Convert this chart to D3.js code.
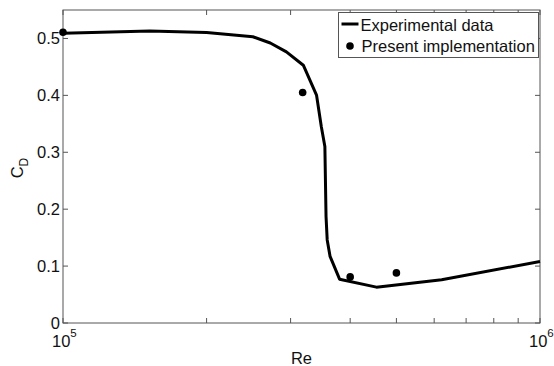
<!DOCTYPE html>
<html>
<head>
<meta charset="utf-8">
<script src="https://cdn.jsdelivr.net/npm/d3@7"></script>
<style>
  body { margin: 0; background: #fff; }
  text { font-family: "Liberation Sans", Arial, Helvetica, sans-serif; fill: #111; }
</style>
</head>
<body>
<div id="chart"></div>
<script>
// experimental curve
const expRe = [1e5, 1.52e5, 2.0e5, 2.5e5, 2.72e5, 2.94e5, 3.19e5, 3.40e5, 3.48e5, 3.54e5, 3.56e5, 3.58e5, 3.63e5, 3.80e5, 4.54e5, 6.22e5, 1e6];
const expCd = [0.509, 0.513, 0.5105, 0.503, 0.492, 0.4765, 0.453, 0.4005, 0.345, 0.31, 0.187, 0.146, 0.117, 0.077, 0.063, 0.076, 0.108];

// present implementation points
const presRe = [1e5, 3.18e5, 4.0e5, 5.0e5];
const presCd = [0.511, 0.405, 0.081, 0.088];

const yTicks = [0, 0.1, 0.2, 0.3, 0.4, 0.5];
const xMinor = [2e5, 3e5, 4e5, 5e5, 6e5, 7e5, 8e5, 9e5];
const xMajor = [1e5, 1e6];
const xExp = ["5", "6"];

// set the dimensions and margins
const W = 554, H = 366;
const margin = {top: 10, right: 14, bottom: 43, left: 63},
    width = W - margin.left - margin.right,
    height = H - margin.top - margin.bottom;

const svg = d3.select("#chart")
    .append("svg")
    .attr("width", W)
    .attr("height", H);

const g = svg.append("g")
    .attr("transform", "translate(" + margin.left + "," + margin.top + ")");

const x = d3.scaleLog().domain([1e5, 1e6]).range([0, width]);
const y = d3.scaleLinear().domain([0, 0.55]).range([height, 0]);

const axisColor = "#555";
const tickLen = 5;

// box
g.append("rect")
    .attr("width", width).attr("height", height)
    .attr("fill", "none").attr("stroke", axisColor).attr("stroke-width", 1);

// x ticks (inward, bottom and top)
const xt = xMinor.concat(xMajor);
xt.forEach(v => {
    g.append("line").attr("x1", x(v)).attr("x2", x(v))
        .attr("y1", height).attr("y2", height - tickLen)
        .attr("stroke", axisColor);
    g.append("line").attr("x1", x(v)).attr("x2", x(v))
        .attr("y1", 0).attr("y2", tickLen)
        .attr("stroke", axisColor);
});

// y ticks (inward, left and right)
yTicks.forEach(v => {
    g.append("line").attr("x1", 0).attr("x2", tickLen)
        .attr("y1", y(v)).attr("y2", y(v)).attr("stroke", axisColor);
    g.append("line").attr("x1", width).attr("x2", width - tickLen)
        .attr("y1", y(v)).attr("y2", y(v)).attr("stroke", axisColor);
    g.append("text")
        .attr("x", -3).attr("y", y(v))
        .attr("dy", "0.35em")
        .attr("text-anchor", "end")
        .attr("font-size", 16.5)
        .text(d3.format("")(v));
});

// x tick labels 10^5, 10^6
xMajor.forEach((v, i) => {
    const t = g.append("text")
        .attr("x", x(v) - 11).attr("y", height + 24)
        .attr("font-size", 16.5);
    t.append("tspan").text("10");
    t.append("tspan").attr("dy", -10).attr("font-size", 11.5).text(xExp[i]);
});

// axis labels
g.append("text")
    .attr("x", width / 2).attr("y", height + 41)
    .attr("text-anchor", "middle")
    .attr("font-size", 16.5)
    .text("Re");

const yl = svg.append("text")
    .attr("transform", "translate(23,168) rotate(-90)")
    .attr("text-anchor", "middle")
    .attr("font-size", 16.5);
yl.append("tspan").text("C");
yl.append("tspan").attr("dy", 5).attr("font-size", 12).text("D");

// experimental line
const expData = expRe.map((r, i) => ({re: r, cd: expCd[i]}));
g.append("path")
    .datum(expData)
    .attr("fill", "none")
    .attr("stroke", "#000")
    .attr("stroke-width", 3)
    .attr("stroke-linejoin", "round")
    .attr("d", d3.line().x(d => x(d.re)).y(d => y(d.cd)));

// present implementation dots
const presData = presRe.map((r, i) => ({re: r, cd: presCd[i]}));
g.selectAll("circle.pres")
    .data(presData)
    .join("circle")
    .attr("class", "pres")
    .attr("cx", d => x(d.re))
    .attr("cy", d => y(d.cd))
    .attr("r", 3.8)
    .attr("fill", "#000");

// legend
const lg = svg.append("g").attr("transform", "translate(338.5,12.5)");
lg.append("rect")
    .attr("width", 200).attr("height", 45)
    .attr("fill", "#fff").attr("stroke", axisColor).attr("stroke-width", 1);
lg.append("line")
    .attr("x1", 3).attr("x2", 20).attr("y1", 11.5).attr("y2", 11.5)
    .attr("stroke", "#000").attr("stroke-width", 3);
lg.append("text").attr("x", 22).attr("y", 18).attr("font-size", 16.5).text("Experimental data");
lg.append("circle").attr("cx", 11.5).attr("cy", 33.5).attr("r", 3.8).attr("fill", "#000");
lg.append("text").attr("x", 23).attr("y", 39.5).attr("font-size", 16.5).text("Present implementation");
</script>
</body>
</html>
